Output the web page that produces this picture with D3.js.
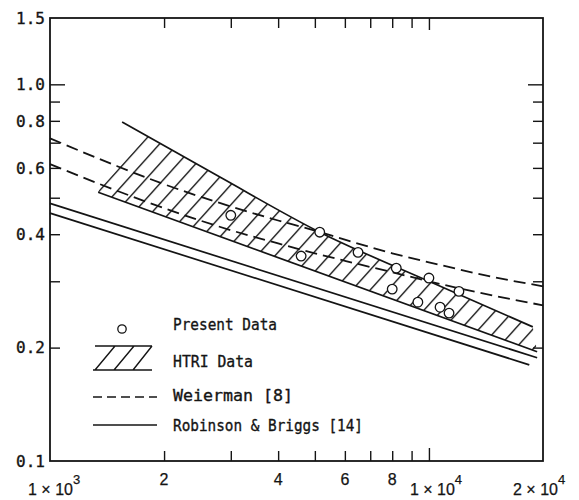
<!DOCTYPE html>
<html><head><meta charset="utf-8">
<script src="https://cdn.jsdelivr.net/npm/d3@7"></script>
<style>body{margin:0;background:#fff}</style>
</head><body>
<svg id="c" width="579" height="500"></svg>
<script>
// ---------- data ----------
// Weierman [8] : two dashed curves
const weiermanRe    = [1000,1500,2000,3000,4000,5000,6000,8000,10000,15000,20000];
const weiermanUpper = [0.719,0.607,0.543,0.474,0.435,0.409,0.387,0.356,0.337,0.307,0.291];
const weiermanLower = [0.614,0.522,0.469,0.410,0.378,0.356,0.340,0.317,0.300,0.274,0.259];
// Robinson & Briggs [14] : two solid lines
const robinsonUpperRe = [1000,19300];
const robinsonUpperJ  = [0.483,0.188];
const robinsonLowerRe = [1000,18400];
const robinsonLowerJ  = [0.455,0.180];
// HTRI data band (upper / lower boundaries)
const htriUpperRe = [1550,2800,5150,10000,18800];
const htriUpperJ  = [0.794,0.568,0.405,0.300,0.227];
const htriLowerRe = [1340,19300];
const htriLowerJ  = [0.517,0.195];
// Present data (circles)
const presentRe = [3000,5150,4600,6500,8200,8000,10000,9350,12000,10700,11300];
const presentJ  = [0.449,0.405,0.350,0.358,0.325,0.286,0.306,0.264,0.282,0.256,0.247];
// axis ticks / labels
const xMinorTicks = [2000,3000,4000,5000,6000,7000,8000,9000];
const xMajorTicks = [10000];
const xDigitLabels = [[2000,"2"],[4000,"4"],[6000,"6"],[8000,"8"]];
const xPowerLabels = [[1000,"1 × 10","3"],[10000,"1 × 10","4"],[20000,"2 × 10","4"]];
const yMinorTicks = [0.2,0.3,0.4,0.5,0.6,0.7,0.8,0.9];
const yMajorTicks = [1.0];
const yLabels = [1.5,1.0,0.8,0.6,0.4,0.2,0.1];
const legendLabels = ["Present Data","HTRI Data","Weierman [8]","Robinson & Briggs [14]"];

// ---------- drawing ----------
const ink = "#141414";
const svg = d3.select("#c");
svg.append("rect").attr("width",579).attr("height",500).attr("fill","#fff");

const x = d3.scaleLog().domain([1000,20000]).range([50,543]);
const y = d3.scaleLog().domain([0.1,1.5]).range([461,18]);
const zip = (a,b) => a.map((v,i)=>[v,b[i]]);

// hatch pattern, phased so that one hatch passes through the start of the lower boundary
const hw = 18, hh = 20;
const lx0 = x(htriLowerRe[0]), ly0 = y(htriLowerJ[0]);
const phase = ((lx0 + ly0*hw/hh) % hw + hw) % hw;
const defs = svg.append("defs");
const pat = defs.append("pattern").attr("id","hatch").attr("patternUnits","userSpaceOnUse")
  .attr("x",phase).attr("y",0).attr("width",hw).attr("height",hh);
pat.append("path").attr("d",`M0,${hh}L${hw},0M-3,${3*hh/hw}L3,${-3*hh/hw}M${hw-3},${hh+3*hh/hw}L${hw+3},${hh-3*hh/hw}`)
  .attr("stroke",ink).attr("stroke-width",1.4).attr("fill","none");
// clip: only to the right of the first hatch line
const ax = lx0 - 1.5 - hw*20, ay = ly0 + hh*20, bx = lx0 - 1.5 + hw*20, by = ly0 - hh*20;
defs.append("clipPath").attr("id","bandclip").append("path")
  .attr("d",`M${ax},${ay}L${bx},${by}L900,${by}L900,${ay}Z`);

// axes (inward ticks)
function axisG(gen, tr){
  const g = svg.append("g").attr("transform",tr).call(gen);
  g.select(".domain").remove();
  g.selectAll(".tick line").attr("stroke",ink).attr("stroke-width",1.4);
  g.selectAll("text").remove();
  return g;
}
axisG(d3.axisBottom(x).tickValues(xMinorTicks).tickSize(-10), `translate(0,${y(0.1)})`);
axisG(d3.axisBottom(x).tickValues(xMajorTicks).tickSize(-13), `translate(0,${y(0.1)})`);
axisG(d3.axisTop(x).tickValues(xMinorTicks).tickSize(-10), `translate(0,${y(1.5)})`);
axisG(d3.axisTop(x).tickValues(xMajorTicks).tickSize(-12), `translate(0,${y(1.5)})`);
axisG(d3.axisLeft(y).tickValues(yMinorTicks).tickSize(-10), `translate(${x(1000)},0)`);
axisG(d3.axisLeft(y).tickValues(yMajorTicks).tickSize(-15), `translate(${x(1000)},0)`);
axisG(d3.axisRight(y).tickValues(yMinorTicks).tickSize(-10), `translate(${x(20000)},0)`);
axisG(d3.axisRight(y).tickValues(yMajorTicks).tickSize(-15), `translate(${x(20000)},0)`);

// frame
svg.append("rect").attr("x",x(1000)).attr("y",y(1.5))
  .attr("width",x(20000)-x(1000)).attr("height",y(0.1)-y(1.5))
  .attr("fill","none").attr("stroke",ink).attr("stroke-width",1.8);

const lineLin = d3.line().x(d=>x(d[0])).y(d=>y(d[1]));
const lineCurve = d3.line().x(d=>x(d[0])).y(d=>y(d[1])).curve(d3.curveMonotoneX);

// HTRI band
const upPts = zip(htriUpperRe,htriUpperJ);
const loPts = zip(htriLowerRe,htriLowerJ);
const bandPath = lineCurve(upPts) + loPts.slice().reverse().map(p=>`L${x(p[0])},${y(p[1])}`).join("") + "Z";
svg.append("path").attr("d",bandPath).attr("fill","url(#hatch)").attr("stroke","none")
  .attr("clip-path","url(#bandclip)");
svg.append("path").attr("d",lineCurve(upPts)).attr("fill","none").attr("stroke",ink).attr("stroke-width",1.7);
svg.append("path").attr("d",lineLin(loPts)).attr("fill","none").attr("stroke",ink).attr("stroke-width",1.7);

// Robinson & Briggs
[[robinsonUpperRe,robinsonUpperJ],[robinsonLowerRe,robinsonLowerJ]].forEach(([a,b])=>{
  svg.append("path").attr("d",lineLin(zip(a,b))).attr("fill","none")
    .attr("stroke",ink).attr("stroke-width",1.7);
});
// Weierman
[weiermanUpper,weiermanLower].forEach(s=>{
  svg.append("path").attr("d",lineCurve(zip(weiermanRe,s))).attr("fill","none")
    .attr("stroke",ink).attr("stroke-width",1.8).attr("stroke-dasharray","12,6");
});

// present data
svg.append("g").selectAll("circle").data(zip(presentRe,presentJ)).join("circle")
  .attr("cx",d=>x(d[0])).attr("cy",d=>y(d[1])).attr("r",4.8)
  .attr("fill","#fff").attr("stroke",ink).attr("stroke-width",1.3);

// y labels
const monoFont = "'DejaVu Sans Mono', monospace";
const sansFont = "'Liberation Sans', Arial, sans-serif";
svg.append("g").selectAll("text").data(yLabels).join("text")
  .attr("x",45).attr("y",d=>y(d)).attr("dy","0.36em")
  .attr("text-anchor","end").attr("font-family",monoFont).attr("font-size",16)
  .attr("fill",ink).attr("stroke",ink).attr("stroke-width",0.35).text(d=>d.toFixed(1));

// x labels
svg.append("g").selectAll("text").data(xDigitLabels).join("text")
  .attr("x",d=>x(d[0])).attr("y",485).attr("text-anchor","middle")
  .attr("font-family",sansFont).attr("font-size",16).attr("fill",ink)
  .attr("stroke",ink).attr("stroke-width",0.25).text(d=>d[1]);
const powOffsets = [-22,-19,-30];
xPowerLabels.forEach((d,i)=>{
  const t = svg.append("text").attr("x",x(d[0])+powOffsets[i]).attr("y",495)
    .attr("font-family",sansFont).attr("font-size",16).attr("fill",ink)
    .attr("stroke",ink).attr("stroke-width",0.25);
  t.append("tspan").text(d[1]);
  t.append("tspan").attr("dy",-11).attr("font-size",13).text(d[2]);
});

// legend
const lg = svg.append("g");
lg.append("circle").attr("cx",122).attr("cy",329).attr("r",4.2).attr("fill","#fff")
  .attr("stroke",ink).attr("stroke-width",1.3);
lg.append("path").attr("d","M95,346H152M93,370H152M95,370L115,346M114,370L134,346M133,370L152,346")
  .attr("fill","none").attr("stroke",ink).attr("stroke-width",1.4);
lg.append("line").attr("x1",93).attr("x2",157).attr("y1",397).attr("y2",397)
  .attr("stroke",ink).attr("stroke-width",1.6).attr("stroke-dasharray","9,5");
lg.append("line").attr("x1",93).attr("x2",157).attr("y1",425).attr("y2",425)
  .attr("stroke",ink).attr("stroke-width",1.6);
const legY = [330,367,401,431];
const legW = [104,80,120,190];
legendLabels.forEach((t,i)=>{
  lg.append("text").attr("x",173).attr("y",legY[i]).attr("font-family",monoFont)
    .attr("font-size",16.5).attr("fill",ink).attr("stroke",ink).attr("stroke-width",0.35)
    .attr("textLength",legW[i]).attr("lengthAdjust","spacingAndGlyphs").text(t);
});
</script>
</body></html>
